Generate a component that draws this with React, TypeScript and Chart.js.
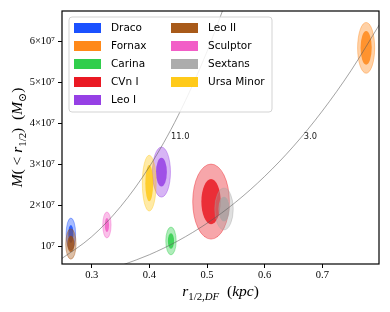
import React, { useEffect, useRef } from "react";
import { Chart, registerables } from "chart.js";

Chart.register(...registerables);

// ---- data ----
const galaxies = ["Draco", "Fornax", "Carina", "CVn I", "Leo I", "Leo II", "Sculptor", "Sextans", "Ursa Minor"];
const colors = ["#023eff", "#ff7c00", "#1ac938", "#e8000b", "#8b2be2", "#9f4800", "#f14cc1", "#a3a3a3", "#ffc400"];
// centres of the posterior contours
const rCenter = [0.2639, 0.776, 0.4375, 0.507, 0.421, 0.2639, 0.3264, 0.5295, 0.3998];
const mCenter = [1.31e7, 5.85e7, 1.14e7, 2.10e7, 2.82e7, 1.066e7, 1.53e7, 1.92e7, 2.55e7];
// outer (light) contour half-extent
const rOuter = [0.0082, 0.0148, 0.009, 0.0318, 0.0156, 0.009, 0.0072, 0.016, 0.012];
const mOuter = [0.39e7, 0.62e7, 0.34e7, 0.915e7, 0.61e7, 0.37e7, 0.317e7, 0.51e7, 0.68e7];
// inner (dark) contour half-extent
const rInner = [0.0045, 0.0097, 0.0054, 0.0168, 0.0094, 0.0062, 0.0037, 0.0097, 0.0068];
const mInner = [0.22e7, 0.41e7, 0.19e7, 0.55e7, 0.35e7, 0.2e7, 0.17e7, 0.3e7, 0.44e7];

// constant-density reference curves
const curve11R = [0.245, 0.3, 0.35, 0.4, 0.45, 0.5, 0.535];
const curve11M = [0.68e7, 1.244e7, 1.976e7, 2.95e7, 4.2e7, 5.76e7, 7.06e7];
const curve3R = [0.355, 0.4, 0.45, 0.5, 0.55, 0.6, 0.65, 0.7, 0.75, 0.8];
const curve3M = [0.562e7, 0.804e7, 1.145e7, 1.571e7, 2.09e7, 2.715e7, 3.45e7, 4.31e7, 5.3e7, 6.44e7];
const curveLabels = ["11.0", "3.0"];
const labelR = [0.4375, 0.668];
const labelM = [3.68e7, 3.68e7];

const xTicks = [0.3, 0.4, 0.5, 0.6, 0.7];
const yTicks = [1e7, 2e7, 3e7, 4e7, 5e7, 6e7];
const xMin = 0.2485, xMax = 0.7983;
const yMin = 0.578e7, yMax = 6.749e7;

const SERIF = "'Liberation Serif', 'DejaVu Serif', serif";
const SANS = "'DejaVu Sans', sans-serif";

type Part = { t: string; it?: boolean; sub?: boolean };

function drawRich(ctx: CanvasRenderingContext2D, parts: Part[], size: number) {
  const fontFor = (p: Part) => `${p.it ? "italic " : ""}${p.sub ? size * 0.7 : size}px ${SERIF}`;
  let w = 0;
  for (const p of parts) { ctx.font = fontFor(p); w += ctx.measureText(p.t).width; }
  let x = -w / 2;
  for (const p of parts) {
    ctx.font = fontFor(p);
    ctx.fillText(p.t, x, p.sub ? size * 0.28 : 0);
    x += ctx.measureText(p.t).width;
  }
}

const ellipsePlugin = {
  id: "ellipses",
  beforeDatasetsDraw(chart: any) {
    const { ctx, chartArea: a, scales } = chart;
    const xs = scales.x, ys = scales.y;
    ctx.save();
    ctx.beginPath();
    ctx.rect(a.left, a.top, a.right - a.left, a.bottom - a.top);
    ctx.clip();
    for (let i = 0; i < galaxies.length; i++) {
      const cx = xs.getPixelForValue(rCenter[i]);
      const cy = ys.getPixelForValue(mCenter[i]);
      const orx = Math.abs(xs.getPixelForValue(rCenter[i] + rOuter[i]) - cx);
      const ory = Math.abs(ys.getPixelForValue(mCenter[i] + mOuter[i]) - cy);
      const irx = Math.abs(xs.getPixelForValue(rCenter[i] + rInner[i]) - cx);
      const iry = Math.abs(ys.getPixelForValue(mCenter[i] + mInner[i]) - cy);
      ctx.fillStyle = colors[i];
      ctx.strokeStyle = colors[i];
      ctx.beginPath();
      ctx.ellipse(cx, cy, orx, ory, 0, 0, Math.PI * 2);
      ctx.globalAlpha = 0.35;
      ctx.fill();
      ctx.globalAlpha = 0.45;
      ctx.lineWidth = 0.8;
      ctx.stroke();
      ctx.beginPath();
      ctx.ellipse(cx, cy, irx, iry, 0, 0, Math.PI * 2);
      ctx.globalAlpha = 0.72;
      ctx.fill();
    }
    ctx.restore();
  },
  afterDatasetsDraw(chart: any) {
    const { ctx, chartArea: a, scales } = chart;
    ctx.save();
    ctx.fillStyle = "#222";
    ctx.font = `8.3px ${SANS}`;
    ctx.textAlign = "left";
    ctx.textBaseline = "middle";
    for (let i = 0; i < curveLabels.length; i++) {
      ctx.fillText(curveLabels[i], scales.x.getPixelForValue(labelR[i]), scales.y.getPixelForValue(labelM[i]));
    }
    // frame
    ctx.strokeStyle = "#000";
    ctx.lineWidth = 1.2;
    ctx.strokeRect(a.left, a.top, a.right - a.left, a.bottom - a.top);
    ctx.restore();
  },
  afterDraw(chart: any) {
    const { ctx, chartArea: a } = chart;
    ctx.save();
    // legend
    const lx = a.left + 7, ly = a.top + 6, lw = 203, lh = 95;
    ctx.beginPath();
    ctx.roundRect(lx, ly, lw, lh, 3);
    ctx.fillStyle = "rgba(255,255,255,0.85)";
    ctx.fill();
    ctx.strokeStyle = "#d3d3d3";
    ctx.lineWidth = 1;
    ctx.stroke();
    ctx.font = `10.5px ${SANS}`;
    ctx.textBaseline = "middle";
    ctx.textAlign = "left";
    for (let i = 0; i < galaxies.length; i++) {
      const col = i < 5 ? 0 : 1;
      const row = i < 5 ? i : i - 5;
      const sx = lx + 5 + col * 97;
      const cy = ly + 11 + row * 18;
      ctx.fillStyle = colors[i];
      ctx.globalAlpha = 0.9;
      ctx.fillRect(sx, cy - 5, 27, 10);
      ctx.globalAlpha = 1;
      ctx.fillStyle = "#000";
      ctx.fillText(galaxies[i], sx + 37, cy + 0.5);
    }
    // axis titles
    ctx.fillStyle = "#000";
    ctx.textAlign = "left";
    ctx.textBaseline = "alphabetic";
    ctx.save();
    ctx.translate((a.left + a.right) / 2, 296);
    drawRich(ctx, [
      { t: "r", it: true },
      { t: "1/2,", sub: true },
      { t: "DF", it: true, sub: true },
      { t: "  (" },
      { t: "kpc", it: true },
      { t: ")" },
    ], 15.5);
    ctx.restore();
    ctx.save();
    ctx.translate(22, (a.top + a.bottom) / 2);
    ctx.rotate(-Math.PI / 2);
    drawRich(ctx, [
      { t: "M", it: true },
      { t: "(" },
      { t: " < " },
      { t: "r", it: true },
      { t: "1/2", sub: true },
      { t: ")  (" },
      { t: "M", it: true },
      { t: "⊙", sub: true },
      { t: ")" },
    ], 15.5);
    ctx.restore();
    ctx.restore();
  },
};

export default function App() {
  const ref = useRef<HTMLCanvasElement>(null);
  useEffect(() => {
    if (!ref.current) return;
    const line = (rs: number[], ms: number[]) => rs.map((r, i) => ({ x: r, y: ms[i] }));
    const chart = new Chart(ref.current, {
      type: "scatter",
      data: {
        datasets: [
          { data: line(curve11R, curve11M), showLine: true, pointRadius: 0, borderColor: "rgba(90,90,90,0.8)", borderWidth: 0.7, cubicInterpolationMode: "monotone" } as any,
          { data: line(curve3R, curve3M), showLine: true, pointRadius: 0, borderColor: "rgba(90,90,90,0.8)", borderWidth: 0.7, cubicInterpolationMode: "monotone" } as any,
        ],
      },
      options: {
        animation: false,
        responsive: false,
        events: [],
        layout: { padding: { top: 11, right: 11, left: 0, bottom: 0 } },
        plugins: { legend: { display: false }, tooltip: { enabled: false } },
        scales: {
          x: {
            type: "linear",
            min: xMin,
            max: xMax,
            afterFit: (s: any) => { s.height = 48; },
            afterBuildTicks: (s: any) => { s.ticks = xTicks.map((v) => ({ value: v })); },
            grid: { drawOnChartArea: false, drawTicks: true, tickLength: 4, tickColor: "#000", tickWidth: 1 },
            border: { display: false },
            ticks: {
              padding: 1,
              maxRotation: 0,
              autoSkip: false,
              color: "#000",
              font: { family: SERIF, size: 10.5 },
              callback: (v: any) => Number(v).toFixed(1),
            },
          },
          y: {
            type: "linear",
            min: yMin,
            max: yMax,
            afterFit: (s: any) => { s.width = 62; },
            afterBuildTicks: (s: any) => { s.ticks = yTicks.map((v) => ({ value: v })); },
            grid: { drawOnChartArea: false, drawTicks: true, tickLength: 4, tickColor: "#000", tickWidth: 1 },
            border: { display: false },
            ticks: {
              padding: 3,
              autoSkip: false,
              color: "#000",
              font: { family: SERIF, size: 10.5 },
              callback: (v: any) => {
                const n = Math.round(Number(v) / 1e7);
                return n === 1 ? "10⁷" : `${n}×10⁷`;
              },
            },
          },
        },
      },
      plugins: [ellipsePlugin],
    });
    return () => chart.destroy();
  }, []);
  return (
    <div style={{ position: "fixed", left: 0, top: 0, width: 390, height: 312, background: "#fff" }}>
      <canvas ref={ref} width={390} height={312} style={{ width: 390, height: 312 }} />
    </div>
  );
}
